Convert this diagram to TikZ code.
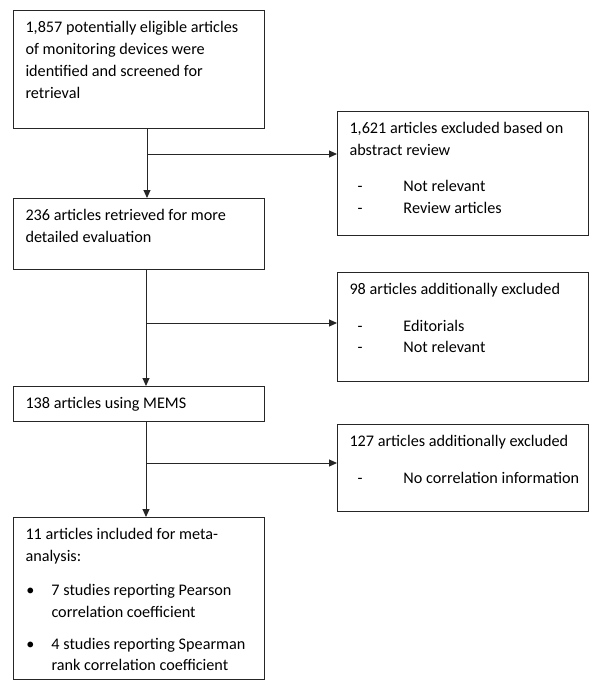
\documentclass[tikz,border=0pt]{standalone}
\usepackage{fontspec}
\setmainfont{Carlito}
\usetikzlibrary{arrows.meta}

\newcommand{\boxtext}[2]{\parbox[t][#1][t]{227pt}{\raggedright\strut#2}}
\newcommand{\dashitem}[1]{\mbox{\hspace*{8pt}\makebox[46pt][l]{-}#1}}
\newcommand{\bulitem}[1]{\makebox[26pt][l]{\hspace*{1pt}\textbullet}\parbox[t]{200pt}{\raggedright#1}}

\begin{document}
\begin{tikzpicture}[x=1pt,y=-1pt,
        box/.style={draw=black!85, line width=1pt, anchor=north west, align=left,
                inner xsep=12pt, inner ysep=7pt, font=\fontsize{16.2}{21.5}\selectfont},
        arr/.style={draw=black!85, line width=1pt, -{Triangle[length=8pt,width=7pt]}}]
        \useasboundingbox (0,0) rectangle (600,691);
        % main column
        \node[box] (b1) at (13,10) {\boxtext{104pt}{1,857 potentially eligible articles\\[0.5pt]of monitoring devices were\\[0.5pt]identified and screened for\\[0.5pt]retrieval}};
        \node[box] (b2) at (13,198) {\boxtext{57pt}{236 articles retrieved for more\\detailed evaluation}};
        \node[box] (b3) at (13,386) {\boxtext{21pt}{138 articles using MEMS}};
        \node[box] (b4) at (13,517) {\boxtext{148pt}{11 articles included for meta-\\analysis:\\[13pt]
                \bulitem{7 studies reporting Pearson\\correlation coefficient}\\[20pt]
                \bulitem{4 studies reporting Spearman\\rank correlation coefficient}}};
        % exclusions
        \node[box] (e1) at (337,111) {\boxtext{110pt}{1,621 articles excluded based on\\abstract review\\[15pt]
                \dashitem{Not relevant}\\\dashitem{Review articles}}};
        \node[box] (e2) at (337,272) {\boxtext{95pt}{98 articles additionally excluded\\[15pt]
                \dashitem{Editorials}\\\dashitem{Not relevant}}};
        \node[box] (e3) at (337,424) {\boxtext{73pt}{127 articles additionally excluded\\[15pt]
                \dashitem{No correlation information}}};
        % junctions
        \coordinate (j1) at (147,154);
        \coordinate (j2) at (146,323);
        \coordinate (j3) at (146,463);
        \draw[arr] (b1.south -| j1) -- (b2.north -| j1);
        \draw[arr] (b2.south -| j2) -- (b3.north -| j2);
        \draw[arr] (b3.south -| j3) -- (b4.north -| j3);
        \draw[arr] (j1) -- (j1 -| e1.west);
        \draw[arr] (j2) -- (j2 -| e2.west);
        \draw[arr] (j3) -- (j3 -| e3.west);
\end{tikzpicture}
\end{document}
